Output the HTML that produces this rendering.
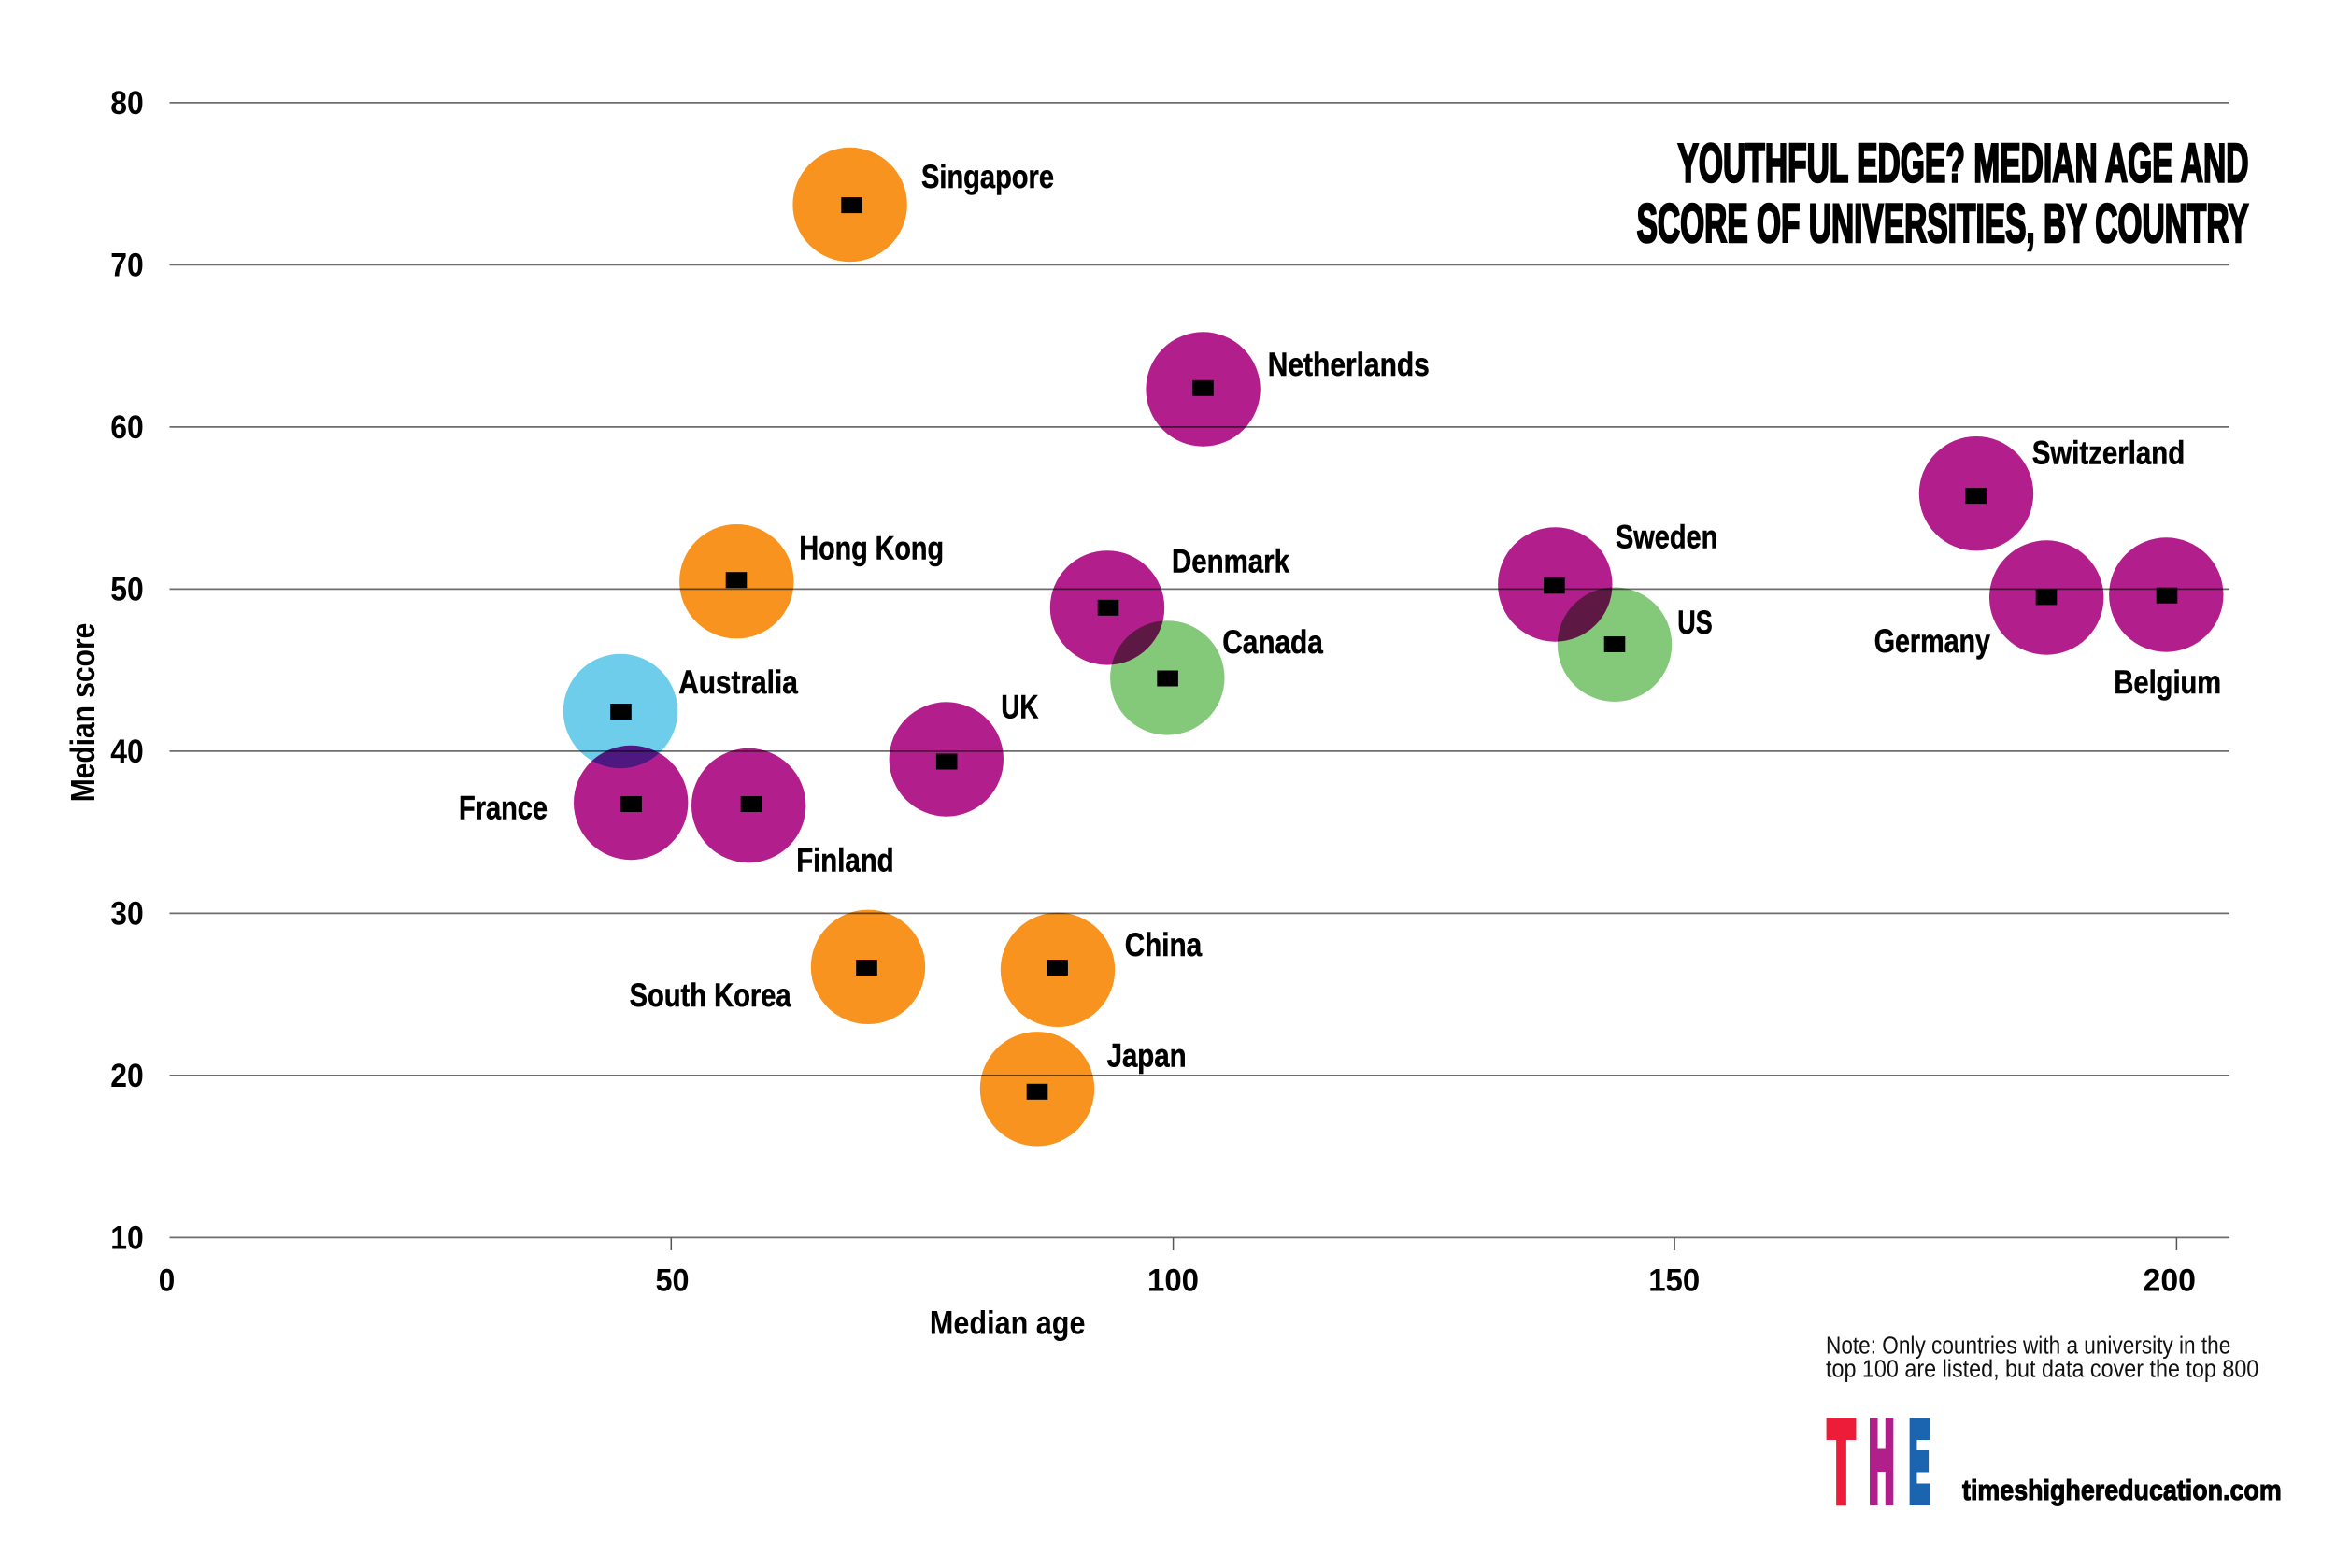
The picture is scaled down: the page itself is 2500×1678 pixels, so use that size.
<!DOCTYPE html>
<html>
<head>
<meta charset="utf-8">
<style>
  html, body { margin: 0; padding: 0; background: #ffffff; }
  body { width: 2500px; height: 1678px; overflow: hidden; }
  svg { display: block; }
  .b { font-family: "Liberation Sans", Arial, sans-serif; font-weight: bold; fill: #000; }
  .r { font-family: "Liberation Sans", Arial, sans-serif; font-weight: normal; fill: #111; }
  .c { mix-blend-mode: multiply; }
</style>
</head>
<body>
<svg width="2500" height="1678" viewBox="0 0 2500 1678" xmlns="http://www.w3.org/2000/svg">
  <rect x="0" y="0" width="2500" height="1678" fill="#ffffff"/>

  <!-- gridlines -->
  <g stroke="#6e6e6e" stroke-width="1.8">
    <line x1="181.5" x2="2386" y1="109.9" y2="109.9"/>
    <line x1="181.5" x2="2386" y1="283.4" y2="283.4"/>
    <line x1="181.5" x2="2386" y1="456.9" y2="456.9"/>
    <line x1="181.5" x2="2386" y1="630.4" y2="630.4"/>
    <line x1="181.5" x2="2386" y1="803.9" y2="803.9"/>
    <line x1="181.5" x2="2386" y1="977.4" y2="977.4"/>
    <line x1="181.5" x2="2386" y1="1150.9" y2="1150.9"/>
    <line x1="181.5" x2="2386" y1="1324.4" y2="1324.4"/>
  </g>
  <!-- x ticks -->
  <g stroke="#555" stroke-width="1.5">
    <line x1="718.3" x2="718.3" y1="1324.4" y2="1338"/>
    <line x1="1255.6" x2="1255.6" y1="1324.4" y2="1338"/>
    <line x1="1792.1" x2="1792.1" y1="1324.4" y2="1338"/>
    <line x1="2329.4" x2="2329.4" y1="1324.4" y2="1338"/>
  </g>

  <!-- y tick labels -->
  <g class="b" font-size="35">
    <text x="118.3" y="121.9" textLength="35.5" lengthAdjust="spacingAndGlyphs">80</text>
    <text x="118.3" y="295.4" textLength="35.5" lengthAdjust="spacingAndGlyphs">70</text>
    <text x="118.3" y="468.9" textLength="35.5" lengthAdjust="spacingAndGlyphs">60</text>
    <text x="118.3" y="642.4" textLength="35.5" lengthAdjust="spacingAndGlyphs">50</text>
    <text x="118.3" y="815.9" textLength="35.5" lengthAdjust="spacingAndGlyphs">40</text>
    <text x="118.3" y="989.4" textLength="35.5" lengthAdjust="spacingAndGlyphs">30</text>
    <text x="118.3" y="1162.9" textLength="35.5" lengthAdjust="spacingAndGlyphs">20</text>
    <text x="118.3" y="1336.4" textLength="35.5" lengthAdjust="spacingAndGlyphs">10</text>
  </g>

  <!-- x tick labels -->
  <g class="b" font-size="34">
    <text x="169.8" y="1381.7" textLength="17.5" lengthAdjust="spacingAndGlyphs">0</text>
    <text x="701.5" y="1381.7" textLength="36" lengthAdjust="spacingAndGlyphs">50</text>
    <text x="1228" y="1381.7" textLength="55" lengthAdjust="spacingAndGlyphs">100</text>
    <text x="1764.2" y="1381.7" textLength="55" lengthAdjust="spacingAndGlyphs">150</text>
    <text x="2293.5" y="1381.7" textLength="56.5" lengthAdjust="spacingAndGlyphs">200</text>
  </g>

  <!-- axis titles -->
  <text class="b" font-size="35" x="994.9" y="1427.3" textLength="166.6" lengthAdjust="spacingAndGlyphs">Median age</text>
  <text class="b" font-size="36" transform="translate(101,858.3) rotate(-90)" x="0" y="0" textLength="191.6" lengthAdjust="spacingAndGlyphs">Median score</text>

  <!-- bubbles -->
  <g>
    <circle class="c" cx="909.6" cy="219" r="61.2" fill="#F7931E"/>
    <circle class="c" cx="1287.6" cy="416.5" r="61.2" fill="#B31E8D"/>
    <circle class="c" cx="788.3" cy="622.2" r="61.2" fill="#F7931E"/>
    <circle class="c" cx="664" cy="761" r="61.2" fill="#6DCDEA"/>
    <circle class="c" cx="1012.8" cy="812.5" r="61.2" fill="#B31E8D"/>
    <circle class="c" cx="1185" cy="650.4" r="61.2" fill="#B31E8D"/>
    <circle class="c" cx="1249.3" cy="725.4" r="61.2" fill="#84C87A"/>
    <circle class="c" cx="675.2" cy="859" r="61.2" fill="#B31E8D"/>
    <circle class="c" cx="801.2" cy="862" r="61.2" fill="#B31E8D"/>
    <circle class="c" cx="929" cy="1034.8" r="61.2" fill="#F7931E"/>
    <circle class="c" cx="1132" cy="1037.8" r="61.2" fill="#F7931E"/>
    <circle class="c" cx="1110" cy="1165.3" r="61.2" fill="#F7931E"/>
    <circle class="c" cx="1664.3" cy="625.5" r="61.2" fill="#B31E8D"/>
    <circle class="c" cx="1728" cy="689.7" r="61.2" fill="#84C87A"/>
    <circle class="c" cx="2115" cy="528.2" r="61.2" fill="#B31E8D"/>
    <circle class="c" cx="2190.2" cy="639.5" r="61.2" fill="#B31E8D"/>
    <circle class="c" cx="2318.3" cy="636.5" r="61.2" fill="#B31E8D"/>
  </g>

  <!-- center markers -->
  <g fill="#000">
    <rect x="900.3" y="211.1" width="22.6" height="17"/>
    <rect x="1276.2" y="406.8" width="22.6" height="17"/>
    <rect x="776.7" y="612.2" width="22.6" height="17"/>
    <rect x="653.2" y="753" width="22.6" height="17"/>
    <rect x="1001.9" y="806.5" width="22.6" height="17"/>
    <rect x="1174.7" y="641.8" width="22.6" height="17"/>
    <rect x="1238.3" y="717.5" width="22.6" height="17"/>
    <rect x="664.3" y="852" width="22.6" height="17"/>
    <rect x="792.7" y="852" width="22.6" height="17"/>
    <rect x="916.2" y="1027.1" width="22.6" height="17"/>
    <rect x="1120.3" y="1027.1" width="22.6" height="17"/>
    <rect x="1098.7" y="1159.8" width="22.6" height="17"/>
    <rect x="1652.1" y="618.3" width="22.6" height="17"/>
    <rect x="1716.7" y="681" width="22.6" height="17"/>
    <rect x="2103.4" y="522.1" width="22.6" height="17"/>
    <rect x="2178.7" y="630.4" width="22.6" height="17"/>
    <rect x="2307.7" y="628.7" width="22.6" height="17"/>
  </g>

  <!-- country labels -->
  <g class="b" font-size="35" stroke="#000" stroke-width="0.5">
    <text x="986" y="200.9" textLength="142" lengthAdjust="spacingAndGlyphs">Singapore</text>
    <text x="1356.8" y="401.8" textLength="173" lengthAdjust="spacingAndGlyphs">Netherlands</text>
    <text x="855.4" y="598.4" textLength="154.6" lengthAdjust="spacingAndGlyphs">Hong Kong</text>
    <text x="726.2" y="742" textLength="127.6" lengthAdjust="spacingAndGlyphs">Australia</text>
    <text x="1071.4" y="768.7" textLength="40" lengthAdjust="spacingAndGlyphs">UK</text>
    <text x="1254" y="612.3" textLength="126" lengthAdjust="spacingAndGlyphs">Denmark</text>
    <text x="1308.2" y="699.1" textLength="107.6" lengthAdjust="spacingAndGlyphs">Canada</text>
    <text x="491" y="876.6" textLength="95" lengthAdjust="spacingAndGlyphs">France</text>
    <text x="852.2" y="932.3" textLength="104.4" lengthAdjust="spacingAndGlyphs">Finland</text>
    <text x="673.6" y="1076.9" textLength="173" lengthAdjust="spacingAndGlyphs">South Korea</text>
    <text x="1203.7" y="1022.8" textLength="82.5" lengthAdjust="spacingAndGlyphs">China</text>
    <text x="1184.6" y="1141.7" textLength="85" lengthAdjust="spacingAndGlyphs">Japan</text>
    <text x="1729" y="586.6" textLength="109.3" lengthAdjust="spacingAndGlyphs">Sweden</text>
    <text x="1795.3" y="678.2" textLength="37.4" lengthAdjust="spacingAndGlyphs">US</text>
    <text x="2174.7" y="496.6" textLength="163.5" lengthAdjust="spacingAndGlyphs">Switzerland</text>
    <text x="2005.7" y="698" textLength="124.3" lengthAdjust="spacingAndGlyphs">Germany</text>
    <text x="2262.4" y="742" textLength="114.8" lengthAdjust="spacingAndGlyphs">Belgium</text>
  </g>

  <!-- title -->
  <g class="b" font-size="58" stroke="#000" stroke-width="2.5" stroke-linejoin="miter">
    <text x="1795.5" y="194.5" textLength="611" lengthAdjust="spacingAndGlyphs">YOUTHFUL EDGE? MEDIAN AGE AND</text>
    <text x="1751.6" y="258.8" textLength="655" lengthAdjust="spacingAndGlyphs">SCORE OF UNIVERSITIES, BY COUNTRY</text>
  </g>

  <!-- note -->
  <g class="r" font-size="25.5">
    <text x="1954" y="1448.3" textLength="433.3" lengthAdjust="spacingAndGlyphs">Note: Only countries with a university in the</text>
    <text x="1954" y="1473.3" textLength="463.3" lengthAdjust="spacingAndGlyphs">top 100 are listed, but data cover the top 800</text>
  </g>

  <!-- THE logo -->
  <g class="b" font-size="122" stroke-width="10" stroke-linejoin="miter">
    <text x="1956" y="1606" textLength="29" lengthAdjust="spacingAndGlyphs" fill="#ED1C39" stroke="#ED1C39" style="fill:#ED1C39">T</text>
    <text x="2000" y="1606" textLength="27.3" lengthAdjust="spacingAndGlyphs" fill="#B11F8A" stroke="#B11F8A" style="fill:#B11F8A">H</text>
    <text x="2042.7" y="1606" textLength="23" lengthAdjust="spacingAndGlyphs" fill="#1B65B0" stroke="#1B65B0" style="fill:#1B65B0">E</text>
  </g>
  <text class="b" font-size="31" x="2100" y="1605" textLength="341.7" lengthAdjust="spacingAndGlyphs" stroke="#000" stroke-width="1">timeshighereducation.com</text>
</svg>
</body>
</html>
